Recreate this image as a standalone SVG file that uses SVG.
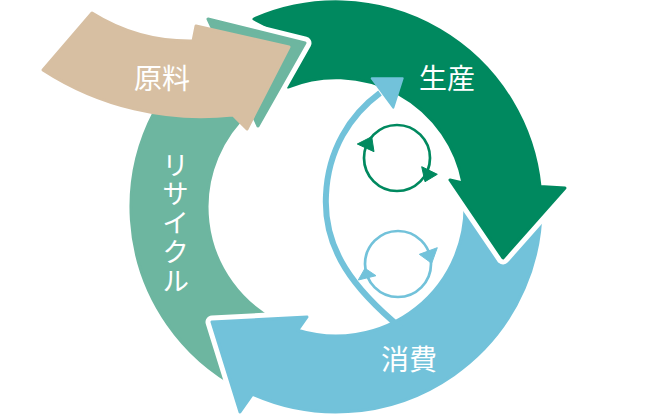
<svg xmlns="http://www.w3.org/2000/svg" width="670" height="416" viewBox="0 0 670 416">
<style>
.halo{fill:none;stroke:#fff;stroke-width:13;stroke-linejoin:round;stroke-linecap:butt}
.green{fill:#00895f;stroke:#00895f;stroke-width:3;stroke-linejoin:round}
.teal{fill:#6db6a0;stroke:#6db6a0;stroke-width:3;stroke-linejoin:round}
.blue{fill:#72c2da;stroke:#72c2da;stroke-width:3;stroke-linejoin:round}
.beige{fill:#d7bfa2;stroke:#d7bfa2;stroke-width:3;stroke-linejoin:round}
.lbl{fill:#fff;font-family:"Noto Sans CJK JP","Noto Sans",sans-serif;font-size:28px;text-anchor:middle}
.vlbl{fill:#fff;font-family:"Noto Sans CJK JP","Noto Sans",sans-serif;font-size:27px;writing-mode:vertical-rl;text-anchor:start;letter-spacing:2px}
.ring-g{fill:none;stroke:#00895f;stroke-width:2.7}
.ring-b{fill:none;stroke:#72c2da;stroke-width:2.7}
</style>
<g id="connectors">
  <g id="recycle">
    <path class="teal" d="M 239.8 388 A 205 205 0 0 1 217.6 39.6 L 208 19 L 305 43 L 258 126 L 250.7 110.3 A 129 129 0 0 0 275.4 320.9 Z"/>
  </g>
  <g id="consumption">
    <path class="halo" d="M 252.5 394.2 L 240 412 L 212 322 L 307 317 L 297.7 330.2"/>
    <path class="blue" d="M 540.5 192.7 A 205 205 0 0 1 252.5 394.2 L 240 412 L 212 322 L 307 317 L 297.7 330.2 A 129 129 0 0 0 464.7 198 Z"/>
  </g>
  <g id="production">
    <path class="halo" d="M 540 186.5 L 565 188 L 503 258 L 450 180 L 463 183"/>
    <path class="green" d="M 254 19 A 205 205 0 0 1 540 186.5 L 565 188 L 503 258 L 450 180 L 463 183 A 129 129 0 0 0 288 87 L 298 42 Z"/>
  </g>
  <g id="recycle-head">
    <path class="halo" d="M 217.6 39.6 L 208 19 L 305 43 L 258 126 L 250.7 110.3"/>
    <path class="teal" d="M 217.6 39.6 L 208 19 L 305 43 L 258 126 L 250.7 110.3 Z"/>
  </g>
  <g id="lens">
    <path d="M 401 328 C 355 290 323 250 326 195 C 328 150 350 115 380 93" fill="none" stroke="#72c2da" stroke-width="6"/>
    <polygon points="371.7,78.3 402.7,78.3 393.3,107.7" fill="#72c2da" stroke="#72c2da" stroke-width="2" stroke-linejoin="round"/>
  </g>
</g>
<g id="raw-material">
  <path class="beige" d="M 92 13 A 185 185 0 0 0 193 41 L 196 26 L 289 47 L 247 129 L 233 115 A 291 291 0 0 1 43 70 Z"/>
  <text class="lbl" x="162" y="89">原料</text>
</g>
<g id="label-production">
  <text class="lbl" x="447" y="89">生産</text>
</g>
<g id="label-consumption">
  <text class="lbl" x="409" y="370">消費</text>
</g>
<g id="label-recycle">
  <text class="vlbl" x="175.5" y="151.5">リサイクル</text>
</g>
<g id="cycle-green">
  <circle class="ring-g" cx="397" cy="158" r="33"/>
  <polygon points="357.3,144 371.7,136.7 374,151.7" fill="#00895f" stroke="#00895f" stroke-width="1" stroke-linejoin="round"/>
  <polygon points="421.7,166.7 437.3,174.3 425,181.7" fill="#00895f" stroke="#00895f" stroke-width="1" stroke-linejoin="round"/>
</g>
<g id="cycle-blue">
  <circle class="ring-b" cx="398" cy="264" r="33"/>
  <polygon points="419.3,254.3 437.3,247.7 431.7,263.3" fill="#72c2da" stroke="#72c2da" stroke-width="1" stroke-linejoin="round"/>
  <polygon points="358.3,280 365,268.3 376,275.7" fill="#72c2da" stroke="#72c2da" stroke-width="1" stroke-linejoin="round"/>
</g>
</svg>
